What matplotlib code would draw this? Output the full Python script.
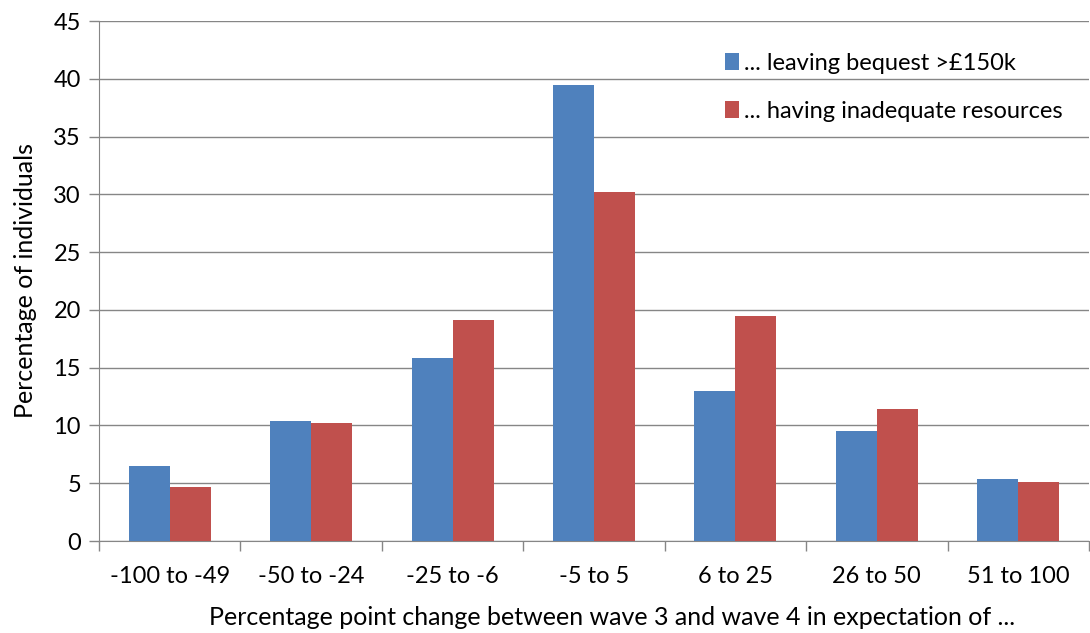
import numpy as np
import matplotlib.pyplot as plt

plt.rcParams['font.family'] = ['Lato', 'DejaVu Sans']

categories = ['-100 to -49', '-50 to -24', '-25 to -6', '-5 to 5',
              '6 to 25', '26 to 50', '51 to 100']
bequest = [6.5, 10.4, 15.8, 39.5, 13.0, 9.5, 5.4]
inadequate = [4.7, 10.2, 19.1, 30.2, 19.5, 11.4, 5.1]

fig = plt.figure(figsize=(10.9, 6.33), dpi=100)
ax = fig.add_axes([99 / 1090, 1 - 541 / 633, 990 / 1090, 520 / 633])

x = np.arange(len(categories))
w = 0.29
ax.bar(x - w / 2, bequest, w, color='#4F81BD', label='... leaving bequest >£150k', zorder=3)
ax.bar(x + w / 2, inadequate, w, color='#C0504D', label='... having inadequate resources', zorder=3)

ax.set_xlim(-0.5, len(categories) - 0.5)
ax.set_ylim(0, 45)
ax.set_yticks(range(0, 46, 5))
ax.yaxis.grid(True, color='#868686', linewidth=1, zorder=0)

fs = 17
# category boundary ticks on x axis
ax.set_xticks(x)
ax.set_xticklabels(categories, fontsize=fs)
ax.tick_params(axis='x', length=0, pad=18)
ax.set_xticks(np.arange(-0.5, len(categories), 1), minor=True)
ax.tick_params(axis='x', which='minor', length=7, color='#868686', width=1)
ax.tick_params(axis='y', length=7, color='#868686', width=1, labelsize=fs, pad=6)

for s in ['top', 'right']:
    ax.spines[s].set_visible(False)
for s in ['left', 'bottom']:
    ax.spines[s].set_color('#868686')

ax.set_xlabel('Percentage point change between wave 3 and wave 4 in expectation of ...',
              fontsize=18)
ax.xaxis.set_label_coords(0.518, -0.125)
ax.set_ylabel('Percentage of individuals', fontsize=18, labelpad=12)

ax.legend(loc='upper right', bbox_to_anchor=(0.995, 0.98), frameon=False, fontsize=fs,
          handlelength=0.6, handleheight=0.7, handletextpad=0.2, labelspacing=1.15)

fig.savefig('out.png', dpi=100)
